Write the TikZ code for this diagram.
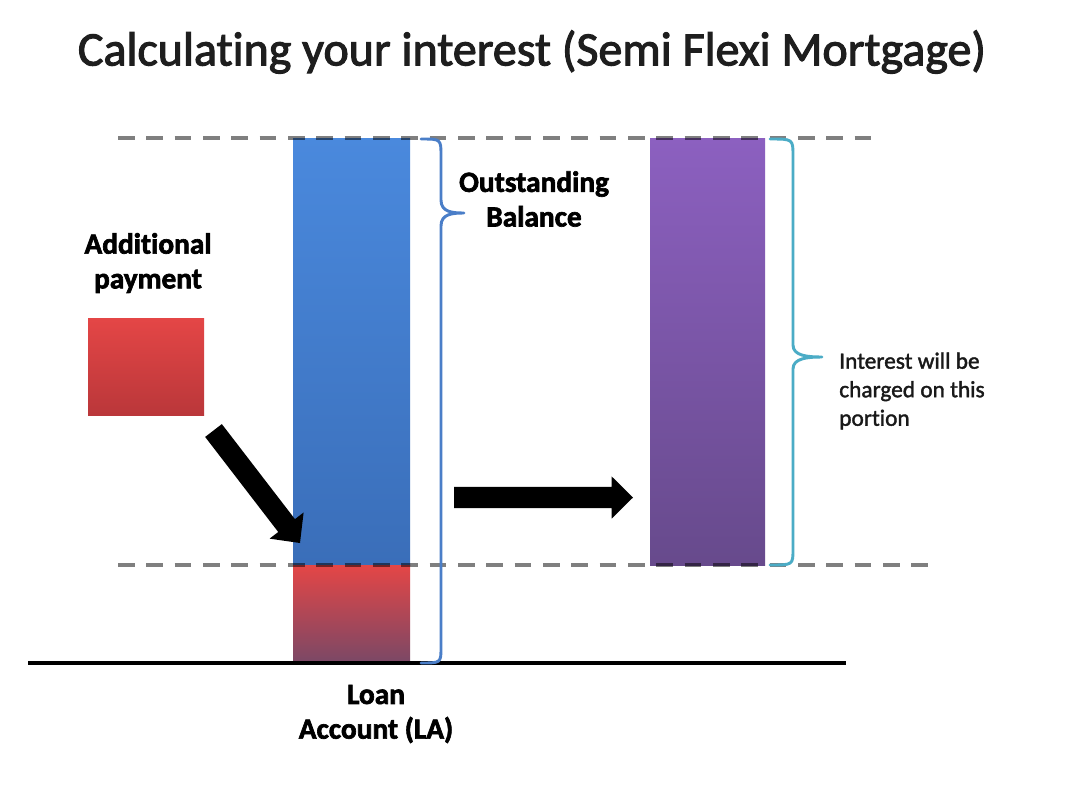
\documentclass[tikz,border=0pt]{standalone}
\usepackage{fontspec}
\setmainfont{Carlito}[Ligatures={TeX,NoCommon}]
\newfontfamily\titlefam{Carlito}[Ligatures={TeX,NoCommon}, FakeBold=2.2]
\newfontfamily\labelfam{Carlito Bold}[Ligatures={TeX,NoCommon}, FakeBold=2.2]
\newfontfamily\smallfam{Carlito}[Ligatures={TeX,NoCommon}, FakeBold=1.6]
\usetikzlibrary{calc}
\definecolor{blueTop}{RGB}{74,137,221}
\definecolor{blueBot}{RGB}{58,110,185}
\definecolor{redTop}{RGB}{228,70,70}
\definecolor{redBot}{RGB}{186,55,58}
\definecolor{redBot2}{RGB}{122,72,102}
\definecolor{purTop}{RGB}{140,96,192}
\definecolor{purBot}{RGB}{103,74,140}
\definecolor{braceBlue}{RGB}{74,126,200}
\definecolor{braceCyan}{RGB}{75,172,198}
\definecolor{titleGray}{RGB}{30,30,30}
\tikzset{
  titlefont/.style={font=\titlefam\fontsize{36}{43}\selectfont, text=titleGray},
  boldlabel/.style={font=\labelfam\fontsize{22}{26}\selectfont, align=center, inner sep=0pt, text=black},
  smalllabel/.style={font=\smallfam\fontsize{17.5}{21.4}\selectfont, align=left, inner sep=0pt, anchor=west, text=black!90},
  guideline/.style={draw=black, opacity=0.5, line width=3pt, dash pattern=on 12.5pt off 8.75pt},
  brace/.style={line width=2.2pt, line cap=round, line join=round},
  blockarrow/.style={fill=black},
}
\begin{document}
\begin{tikzpicture}[x=0.75pt,y=-0.75pt]
\useasboundingbox (0,0) rectangle (1068,800);
\fill[white] (0,0) rectangle (1068,800);

% bars
\shade[top color=blueTop, bottom color=blueBot] (293,138) rectangle (410,565);
\shade[top color=redTop, bottom color=redBot2] (293,565) rectangle (410,663);
\shade[top color=redTop, bottom color=redBot] (88,318) rectangle (204,415);
\shade[top color=purTop, bottom color=purBot] (650,138) rectangle (765,565);

% named coordinates
\coordinate (blueBar) at (351,350);
\coordinate (purBar) at (707,350);
\coordinate (s1) at (213.5,430.5);
\coordinate (t1) at (300,543);
\coordinate (s2) at (454,497.5);
\coordinate (t2) at (633,497.5);

% guide lines
\draw[guideline] (118,138) -- (874,138);
\draw[guideline] (118,565) -- (936,565);

% base line
\draw[line width=2.4pt] (28,663) -- (846,663);

% braces
\draw[brace, braceBlue] (421,139) .. controls (441,139) .. (441,156) -- (441,200)
  .. controls (441,212) and (452,213) .. (464,213)
  .. controls (452,213) and (441,214) .. (441,226) -- (441,647)
  .. controls (441,663) .. (421,663);
\draw[brace, braceCyan] (770,139) .. controls (793,139) .. (793,156) -- (793,345)
  .. controls (793,356) and (808,357) .. (822,357)
  .. controls (808,357) and (793,358) .. (793,369) -- (793,549)
  .. controls (793,565) .. (770,565);

% block arrows
\fill[blockarrow]
  ($(s1)!7.9pt!-90:(t1)$) -- ($($(t1)!16.5pt!(s1)$)!7.9pt!-90:(t1)$)
  -- ($($(t1)!16.5pt!(s1)$)!16.1pt!-90:(t1)$) -- (t1)
  -- ($($(t1)!16.5pt!(s1)$)!16.1pt!90:(t1)$)
  -- ($($(t1)!16.5pt!(s1)$)!7.9pt!90:(t1)$) -- ($(s1)!7.9pt!90:(t1)$) -- cycle;
\fill[blockarrow]
  ($(s2)!7.9pt!-90:(t2)$) -- ($($(t2)!16pt!(s2)$)!7.9pt!-90:(t2)$)
  -- ($($(t2)!16pt!(s2)$)!15.8pt!-90:(t2)$) -- (t2)
  -- ($($(t2)!16pt!(s2)$)!15.8pt!90:(t2)$)
  -- ($($(t2)!16pt!(s2)$)!7.9pt!90:(t2)$) -- ($(s2)!7.9pt!90:(t2)$) -- cycle;

% texts
\node[titlefont] (title) at (532,52) {Calculating your interest (Semi Flexi Mortgage)};
\node[boldlabel] (outst) at (534,199) {Outstanding\\Balance};
\node[boldlabel] (addpay) at (148,263) {Additional\\payment};
\node[boldlabel] (loan) at (376,714) {Loan\\Account (LA)};
\node[smalllabel] (interest) at (839,391) {Interest will be\\charged on this\\portion};
\end{tikzpicture}
\end{document}
